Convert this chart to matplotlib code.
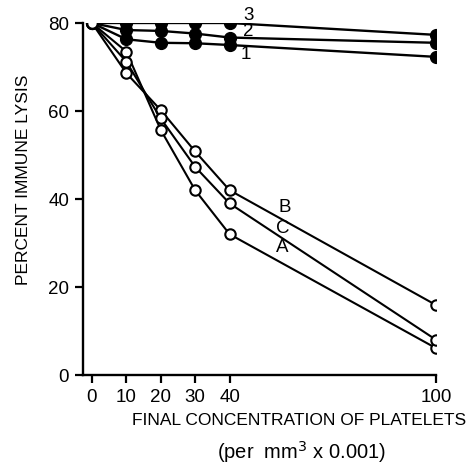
import matplotlib
matplotlib.use("Agg")
import matplotlib.pyplot as plt

plt.rcParams['font.family'] = ['Liberation Sans', 'DejaVu Sans']

x = [0, 10, 20, 30, 40, 100]
series_1 = [80, 76.3, 75.5, 75.4, 75.0, 72.3]
series_2 = [80, 78.4, 78.2, 77.6, 76.7, 75.5]
series_3 = [80, 80, 80, 80, 80, 77.3]
series_A = [80, 73.5, 55.7, 42.0, 32.0, 6.1]
series_B = [80, 68.6, 60.2, 50.8, 42.0, 15.9]
series_C = [80, 71.2, 58.3, 47.3, 39.0, 8.0]
xtick_vals = [0, 10, 20, 30, 40, 100]
ytick_vals = [0, 20, 40, 60, 80]

fig = plt.figure(figsize=(4.7, 4.65), dpi=100)
ax = fig.add_axes([83/470, 1-375/465, (436-83)/470, (375-23)/465])

for s in (series_1, series_2, series_3):
    ax.plot(x, s, color='black', lw=1.7, marker='o', ms=8.5,
            mfc='black', mec='black', zorder=3)
for s in (series_A, series_B, series_C):
    ax.plot(x, s, color='black', lw=1.5, marker='o', ms=7.5,
            mfc='white', mec='black', mew=1.5, zorder=3)

ax.set_xlim(-2.6, 100)
ax.set_ylim(0, 80)
ax.spines['top'].set_visible(False)
ax.spines['right'].set_visible(False)
ax.spines['left'].set_linewidth(1.7)
ax.spines['bottom'].set_linewidth(1.7)
ax.set_xticks(xtick_vals)
ax.set_xticklabels([str(v) for v in xtick_vals])
ax.set_yticks(ytick_vals)
ax.tick_params(axis='both', direction='out', length=6, width=1.6,
               labelsize=13.5, pad=4)

lab_kw = dict(fontsize=13.5, ha='center', va='center')
ax.text(45.5, 81.8, '3', **lab_kw)
ax.text(45.3, 78.0, '2', **lab_kw)
ax.text(44.7, 72.8, '1', **lab_kw)
ax.text(56.0, 38.0, 'B', **lab_kw)
ax.text(55.6, 33.2, 'C', **lab_kw)
ax.text(55.2, 28.9, 'A', **lab_kw)

ax.set_ylabel('PERCENT IMMUNE LYSIS', fontsize=12.5)
ax.yaxis.set_label_coords((31-83)/353, (375-180)/352)
fig.text((135+463)/2/470, 1-420/465, 'FINAL CONCENTRATION OF PLATELETS',
         fontsize=12.5, ha='center', va='center')
fig.text(302/470, 1-452/465, r'(per  mm$^3$ x 0.001)',
         fontsize=14.5, ha='center', va='center')

fig.savefig('out.png', dpi=100)
